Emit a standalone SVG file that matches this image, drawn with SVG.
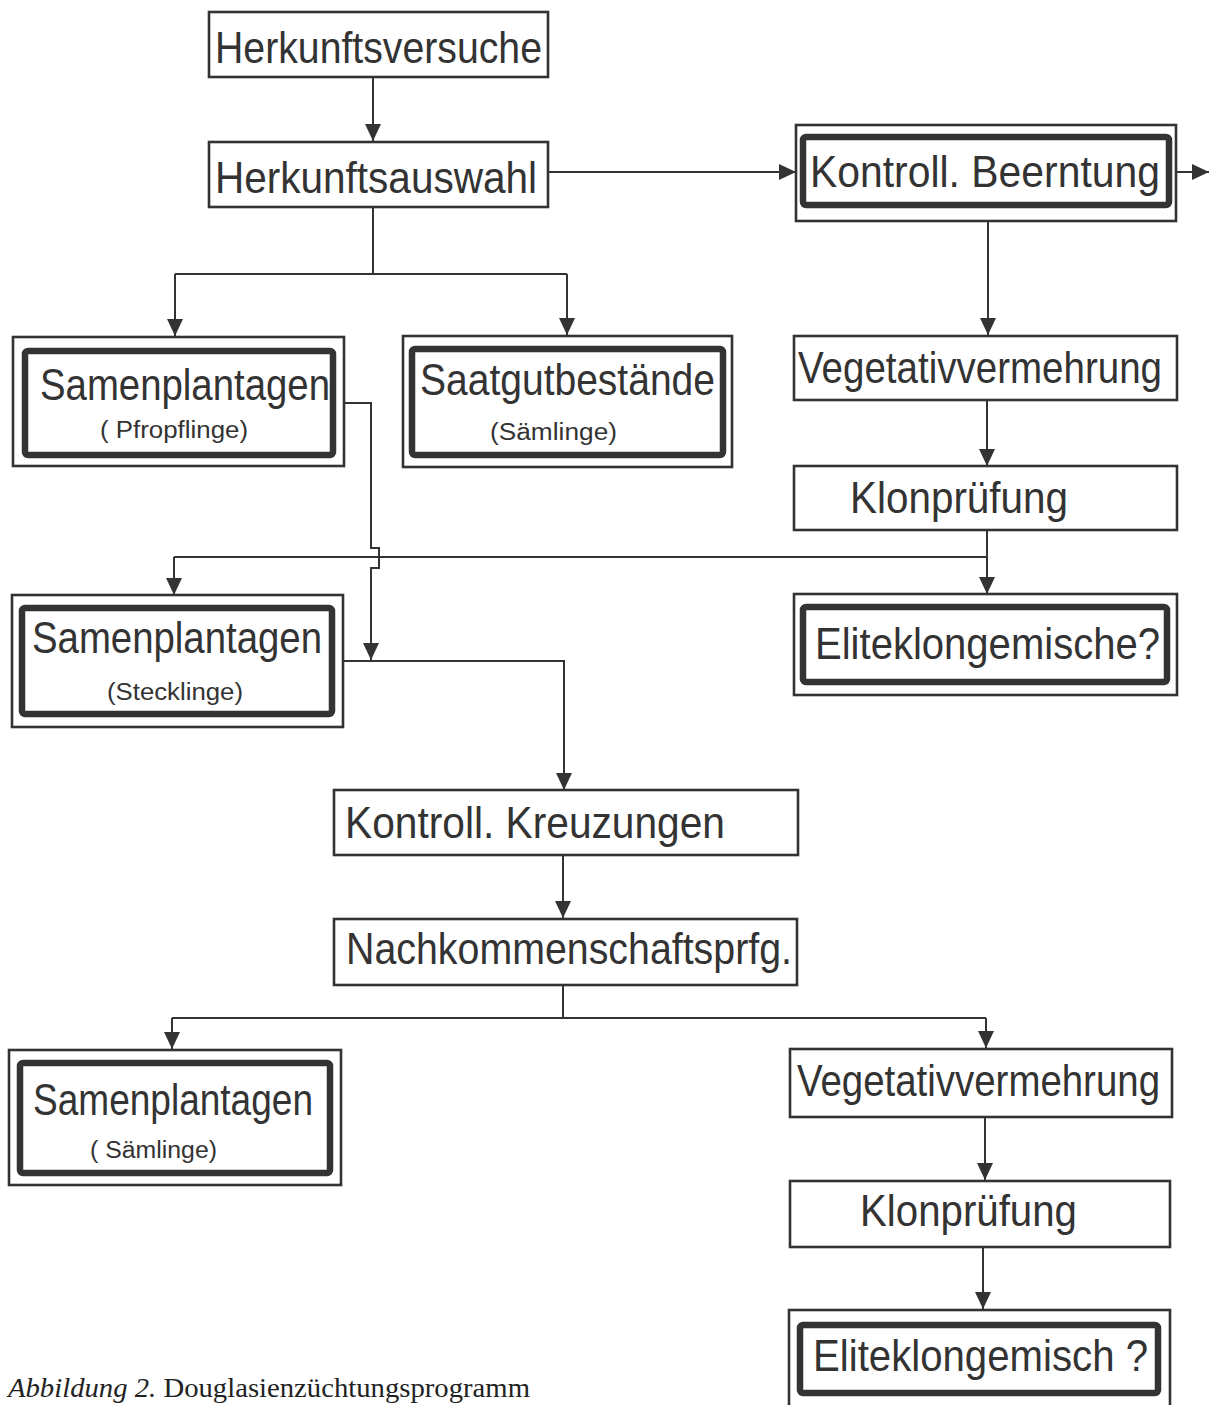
<svg xmlns="http://www.w3.org/2000/svg" width="1213" height="1405" viewBox="0 0 1213 1405">
<defs>
<marker id="ah" markerUnits="userSpaceOnUse" markerWidth="18" markerHeight="18" viewBox="0 0 18 18" refX="17" refY="9" orient="auto">
<path d="M0,1 L17,9 L0,17 z" fill="#333"/>
</marker>
<style>
.box{fill:#fff;stroke:#333;stroke-width:2.6}
.inner{fill:none;stroke:#333;stroke-width:6.5;stroke-linejoin:round}
.lbl{font-family:"Liberation Sans","DejaVu Sans",sans-serif;font-size:44px;fill:#333}
.sub{font-family:"Liberation Sans","DejaVu Sans",sans-serif;font-size:23px;fill:#333}
.cap{font-family:"Liberation Serif","DejaVu Serif",serif;font-size:27px;fill:#222}
.con{fill:none;stroke:#333;stroke-width:2}
</style>
</defs>
<rect width="1213" height="1405" fill="#fff"/>

<g id="connectors">
<path class="con" d="M373,77 V141" marker-end="url(#ah)"/>
<path class="con" d="M373,207 V274"/>
<path class="con" d="M175,274 H567"/>
<path class="con" d="M175,274 V336" marker-end="url(#ah)"/>
<path class="con" d="M567,274 V335" marker-end="url(#ah)"/>
<path class="con" d="M548,172 H796" marker-end="url(#ah)"/>
<path class="con" d="M1176,172 H1209" marker-end="url(#ah)"/>
<path class="con" d="M988,221 V335" marker-end="url(#ah)"/>
<path class="con" d="M987,400 V466" marker-end="url(#ah)"/>
<path class="con" d="M987,530 V594" marker-end="url(#ah)"/>
<path class="con" d="M987,557 H174"/>
<path class="con" d="M174,557 V595" marker-end="url(#ah)"/>
<path class="con" d="M344,403 H371 V548 H379 V568 H371 V660" marker-end="url(#ah)"/>
<path class="con" d="M343,661 H564 V790" marker-end="url(#ah)"/>
<path class="con" d="M563,855 V918" marker-end="url(#ah)"/>
<path class="con" d="M563,985 V1018"/>
<path class="con" d="M172,1018 H986"/>
<path class="con" d="M172,1018 V1049" marker-end="url(#ah)"/>
<path class="con" d="M986,1018 V1048" marker-end="url(#ah)"/>
<path class="con" d="M985,1117 V1180" marker-end="url(#ah)"/>
<path class="con" d="M983,1247 V1309" marker-end="url(#ah)"/>
</g>

<g id="herkunftsversuche">
<rect class="box" x="209" y="12" width="339" height="65"/>
<text class="lbl" x="215" y="63" textLength="327" lengthAdjust="spacingAndGlyphs">Herkunftsversuche</text>
</g>

<g id="herkunftsauswahl">
<rect class="box" x="209" y="142" width="339" height="65"/>
<text class="lbl" x="215" y="193" textLength="322" lengthAdjust="spacingAndGlyphs">Herkunftsauswahl</text>
</g>

<g id="kontroll-beerntung">
<rect class="box" x="796" y="125" width="380" height="96"/>
<rect class="inner" x="803" y="137" width="366" height="68" rx="3"/>
<text class="lbl" x="810" y="187" textLength="350" lengthAdjust="spacingAndGlyphs">Kontroll. Beerntung</text>
</g>

<g id="samenplantagen-pfropflinge">
<rect class="box" x="13" y="337" width="331" height="129"/>
<rect class="inner" x="25" y="351" width="308" height="104" rx="3"/>
<text class="lbl" x="40" y="400" textLength="290" lengthAdjust="spacingAndGlyphs">Samenplantagen</text>
<text class="sub" x="100" y="438" textLength="148" lengthAdjust="spacingAndGlyphs">( Pfropflinge)</text>
</g>

<g id="saatgutbestaende">
<rect class="box" x="403" y="336" width="329" height="131"/>
<rect class="inner" x="412" y="349" width="311" height="106" rx="3"/>
<text class="lbl" x="420" y="395" textLength="295" lengthAdjust="spacingAndGlyphs">Saatgutbestände</text>
<text class="sub" x="490" y="440" textLength="127" lengthAdjust="spacingAndGlyphs">(Sämlinge)</text>
</g>

<g id="vegetativvermehrung-1">
<rect class="box" x="794" y="336" width="383" height="64"/>
<text class="lbl" x="798" y="383" textLength="364" lengthAdjust="spacingAndGlyphs">Vegetativvermehrung</text>
</g>

<g id="klonpruefung-1">
<rect class="box" x="794" y="466" width="383" height="64"/>
<text class="lbl" x="850" y="513" textLength="218" lengthAdjust="spacingAndGlyphs">Klonprüfung</text>
</g>

<g id="eliteklongemische">
<rect class="box" x="794" y="594" width="383" height="101"/>
<rect class="inner" x="803" y="607" width="364" height="75" rx="3"/>
<text class="lbl" x="815" y="659" textLength="345" lengthAdjust="spacingAndGlyphs">Eliteklongemische?</text>
</g>

<g id="samenplantagen-stecklinge">
<rect class="box" x="12" y="595" width="331" height="132"/>
<rect class="inner" x="22" y="608" width="310" height="106" rx="3"/>
<text class="lbl" x="32" y="653" textLength="290" lengthAdjust="spacingAndGlyphs">Samenplantagen</text>
<text class="sub" x="107" y="700" textLength="136" lengthAdjust="spacingAndGlyphs">(Stecklinge)</text>
</g>

<g id="kontroll-kreuzungen">
<rect class="box" x="334" y="790" width="464" height="65"/>
<text class="lbl" x="345" y="838" textLength="380" lengthAdjust="spacingAndGlyphs">Kontroll. Kreuzungen</text>
</g>

<g id="nachkommenschaftsprfg">
<rect class="box" x="334" y="919" width="463" height="66"/>
<text class="lbl" x="346" y="964" textLength="446" lengthAdjust="spacingAndGlyphs">Nachkommenschaftsprfg.</text>
</g>

<g id="samenplantagen-saemlinge">
<rect class="box" x="9" y="1050" width="332" height="135"/>
<rect class="inner" x="20" y="1063" width="310" height="110" rx="3"/>
<text class="lbl" x="33" y="1115" textLength="280" lengthAdjust="spacingAndGlyphs">Samenplantagen</text>
<text class="sub" x="90" y="1158" textLength="127" lengthAdjust="spacingAndGlyphs">( Sämlinge)</text>
</g>

<g id="vegetativvermehrung-2">
<rect class="box" x="790" y="1049" width="382" height="68"/>
<text class="lbl" x="797" y="1096" textLength="363" lengthAdjust="spacingAndGlyphs">Vegetativvermehrung</text>
</g>

<g id="klonpruefung-2">
<rect class="box" x="790" y="1181" width="380" height="66"/>
<text class="lbl" x="860" y="1226" textLength="217" lengthAdjust="spacingAndGlyphs">Klonprüfung</text>
</g>

<g id="eliteklongemisch">
<rect class="box" x="789" y="1310" width="381" height="110"/>
<rect class="inner" x="800" y="1325" width="358" height="68" rx="3"/>
<text class="lbl" x="813" y="1371" textLength="335" lengthAdjust="spacingAndGlyphs">Eliteklongemisch ?</text>
</g>

<g id="caption">
<text class="cap" x="8" y="1397" textLength="522" lengthAdjust="spacingAndGlyphs"><tspan font-style="italic">Abbildung 2.</tspan> Douglasienzüchtungsprogramm</text>
</g>
</svg>
